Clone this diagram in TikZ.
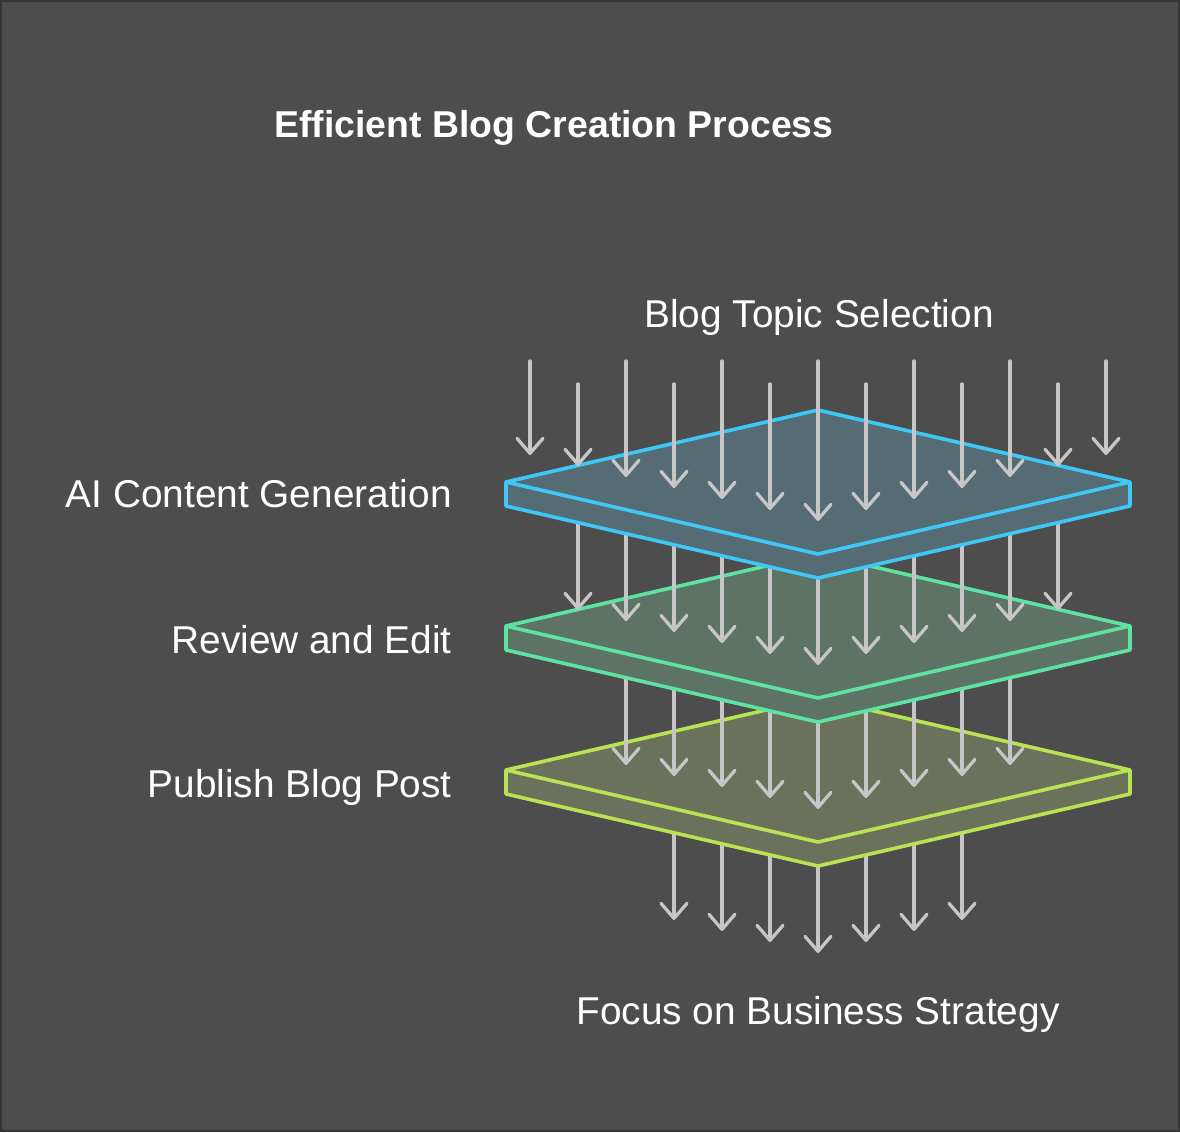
\documentclass[tikz,border=0pt]{standalone}
\usepackage{fontspec}
\setmainfont{Liberation Sans}
\usetikzlibrary{arrows.meta}

\definecolor{bg}{HTML}{4D4D4D}
\definecolor{frame}{HTML}{353535}
\definecolor{arrowgray}{HTML}{C6C6C6}
\definecolor{skyedge}{HTML}{3FC8F5}
\definecolor{skyfill}{HTML}{566C74}
\definecolor{mintedge}{HTML}{5EE3A1}
\definecolor{mintfill}{HTML}{5D7366}
\definecolor{limeedge}{HTML}{B8E352}
\definecolor{limefill}{HTML}{6A725C}

\begin{document}
\begin{tikzpicture}[x=1pt,y=-1pt,
    flow/.style={draw=arrowgray, line width=3.3pt, line cap=round, -{Straight Barb[length=15pt,width=26pt,round]}},
    layer/.style={line width=3.6pt, line join=round},
    steptext/.style={text=white, inner sep=0pt, font=\fontsize{38.8}{45}\selectfont},
    titletext/.style={text=white, inner sep=0pt, font=\bfseries\fontsize{37.4}{44}\selectfont}]
        \fill[bg] (0,0) rectangle (1180,1132);
        \draw[frame, line width=2pt] (1,1) rectangle (1179,1131);

        \node[titletext, anchor=base] (title) at (554,137) {Efficient Blog Creation Process};

        \draw[flow] (674,790) -- (674,920);
        \draw[flow] (722,790) -- (722,931);
        \draw[flow] (770,790) -- (770,942);
        \draw[flow] (818,790) -- (818,953);
        \draw[flow] (866,790) -- (866,942);
        \draw[flow] (914,790) -- (914,931);
        \draw[flow] (962,790) -- (962,920);

        \filldraw[layer, draw=limeedge, fill=limefill] (506,770) -- (818,698) -- (1130,770) -- (1130,794) -- (818,866) -- (506,794) -- cycle;
        \draw[layer, draw=limeedge] (506,770) -- (818,842) -- (1130,770);

        \draw[flow] (626,645) -- (626,765);
        \draw[flow] (674,645) -- (674,776);
        \draw[flow] (722,645) -- (722,787);
        \draw[flow] (770,645) -- (770,798);
        \draw[flow] (818,645) -- (818,809);
        \draw[flow] (866,645) -- (866,798);
        \draw[flow] (914,645) -- (914,787);
        \draw[flow] (962,645) -- (962,776);
        \draw[flow] (1010,645) -- (1010,765);

        \filldraw[layer, draw=mintedge, fill=mintfill] (506,626) -- (818,554) -- (1130,626) -- (1130,650) -- (818,722) -- (506,650) -- cycle;
        \draw[layer, draw=mintedge] (506,626) -- (818,698) -- (1130,626);

        \draw[flow] (578,500) -- (578,610);
        \draw[flow] (626,500) -- (626,621);
        \draw[flow] (674,500) -- (674,632);
        \draw[flow] (722,500) -- (722,643);
        \draw[flow] (770,500) -- (770,654);
        \draw[flow] (818,500) -- (818,665);
        \draw[flow] (866,500) -- (866,654);
        \draw[flow] (914,500) -- (914,643);
        \draw[flow] (962,500) -- (962,632);
        \draw[flow] (1010,500) -- (1010,621);
        \draw[flow] (1058,500) -- (1058,610);

        \filldraw[layer, draw=skyedge, fill=skyfill] (506,482) -- (818,410) -- (1130,482) -- (1130,506) -- (818,578) -- (506,506) -- cycle;
        \draw[layer, draw=skyedge] (506,482) -- (818,554) -- (1130,482);

        \draw[flow] (530,361) -- (530,455);
        \draw[flow] (578,384) -- (578,466);
        \draw[flow] (626,361) -- (626,477);
        \draw[flow] (674,384) -- (674,488);
        \draw[flow] (722,361) -- (722,499);
        \draw[flow] (770,384) -- (770,510);
        \draw[flow] (818,361) -- (818,521);
        \draw[flow] (866,384) -- (866,510);
        \draw[flow] (914,361) -- (914,499);
        \draw[flow] (962,384) -- (962,488);
        \draw[flow] (1010,361) -- (1010,477);
        \draw[flow] (1058,384) -- (1058,466);
        \draw[flow] (1106,361) -- (1106,455);

        \node[steptext, anchor=base] (topic) at (819,327) {Blog Topic Selection};
        \node[steptext, anchor=base east] (aigen) at (452,507) {AI Content Generation};
        \node[steptext, anchor=base east] (review) at (452,653) {Review and Edit};
        \node[steptext, anchor=base east] (publish) at (452,797) {Publish Blog Post};
        \node[steptext, anchor=base] (focus) at (818,1024) {Focus on Business Strategy};
    \end{tikzpicture}
\end{document}
